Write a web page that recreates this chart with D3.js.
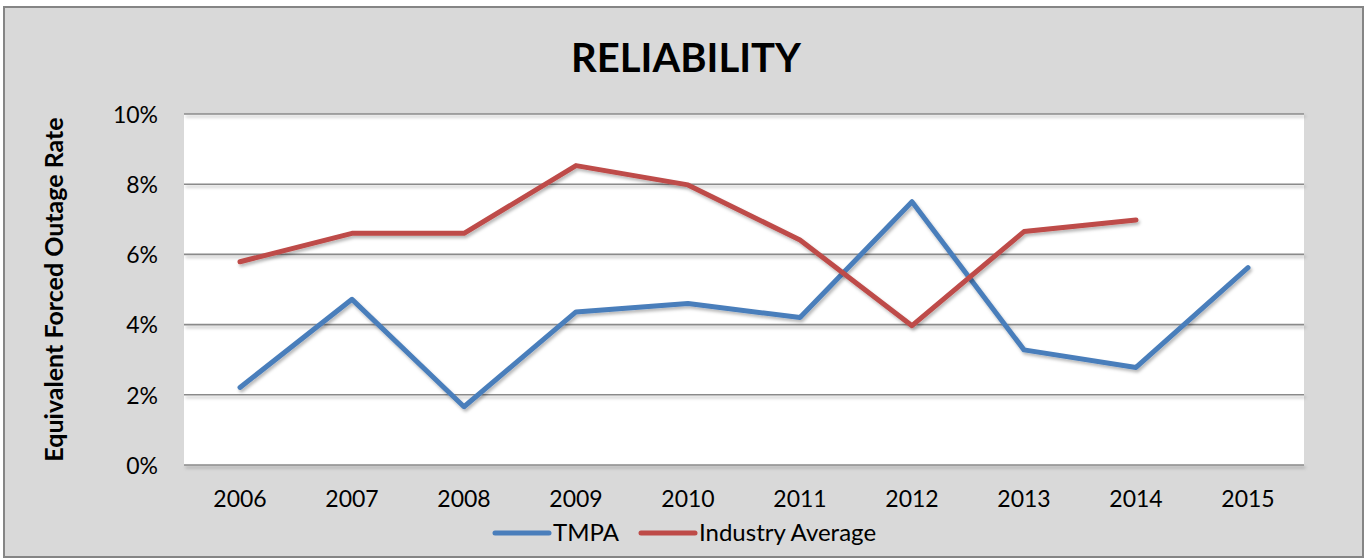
<!DOCTYPE html>
<html>
<head>
<meta charset="utf-8">
<script src="https://cdn.jsdelivr.net/npm/d3@7"></script>
<style>
  html, body { margin: 0; padding: 0; background: #fff; }
  svg { display: block; }
  text { font-family: Lato, "Open Sans", sans-serif; fill: #000; }
</style>
</head>
<body>
<svg id="chart" width="1367" height="560"></svg>
<script>
// Data
const years = ["2006", "2007", "2008", "2009", "2010", "2011", "2012", "2013", "2014", "2015"];
const tmpa = [0.0221, 0.0472, 0.0166, 0.0436, 0.0460, 0.0420, 0.0750, 0.0328, 0.0278, 0.0562];
const industryAvg = [0.0579, 0.0660, 0.0660, 0.0853, 0.0798, 0.0641, 0.0397, 0.0665, 0.0698, null];
const yTicks = [0, 0.02, 0.04, 0.06, 0.08, 0.10];
const seriesNames = ["TMPA", "Industry Average"];
const seriesColors = ["#4a7ebb", "#be4b48"];

const svg = d3.select("#chart");
const W = 1367, H = 560;

// Frame
svg.append("rect").attr("x", 0).attr("y", 0).attr("width", W).attr("height", H).attr("fill", "#ffffff");
svg.append("rect")
  .attr("x", 4).attr("y", 7).attr("width", 1359).attr("height", 550)
  .attr("fill", "#d9d9d9").attr("stroke", "#858585").attr("stroke-width", 2);

const defs = svg.append("defs");
const f = defs.append("filter").attr("id", "shadow")
  .attr("filterUnits", "userSpaceOnUse")
  .attr("x", 0).attr("y", 0).attr("width", W).attr("height", H);
f.append("feDropShadow").attr("dx", 1.5).attr("dy", 2.5).attr("stdDeviation", 1.6)
  .attr("flood-color", "#000").attr("flood-opacity", 0.28);

const plot = { left: 184, top: 114, right: 1304, bottom: 465 };

const x = d3.scaleBand().domain(years).range([plot.left, plot.right]).padding(0);
const y = d3.scaleLinear().domain([0, 0.10]).range([plot.bottom, plot.top]);

// Plot background
svg.append("rect")
  .attr("x", plot.left).attr("y", plot.top)
  .attr("width", plot.right - plot.left).attr("height", plot.bottom - plot.top)
  .attr("fill", "#ffffff");

// Gridlines
svg.append("g").selectAll("line").data(yTicks).join("line")
  .attr("x1", plot.left).attr("x2", plot.right)
  .attr("y1", d => y(d)).attr("y2", d => y(d))
  .attr("stroke", "#8a8a8a").attr("stroke-width", 1.6)
  .attr("filter", "url(#shadow)");

// Y axis
const yAxis = svg.append("g")
  .attr("transform", `translate(${plot.left},0)`)
  .call(d3.axisLeft(y).tickValues(yTicks).tickFormat(d3.format(".0%")).tickSize(0).tickPadding(26));
yAxis.select(".domain").remove();
yAxis.selectAll("text").attr("font-size", 23).attr("font-family", "Lato, sans-serif").attr("fill", "#000").attr("dy", "0.36em");

// X axis
const xAxis = svg.append("g")
  .attr("transform", `translate(0,${plot.bottom})`)
  .call(d3.axisBottom(x).tickSize(0));
xAxis.select(".domain").remove();
xAxis.selectAll("text").attr("font-size", 23).attr("font-family", "Lato, sans-serif").attr("fill", "#000")
  .attr("y", 42).attr("dy", 0);

// Lines
const line = d3.line()
  .defined(d => d.v != null)
  .x(d => x(d.year) + x.bandwidth() / 2)
  .y(d => y(d.v));

[tmpa, industryAvg].forEach((vals, i) => {
  const pts = years.map((yr, j) => ({ year: yr, v: vals[j] }));
  svg.append("path")
    .datum(pts)
    .attr("d", line)
    .attr("fill", "none")
    .attr("stroke", seriesColors[i])
    .attr("stroke-width", 5)
    .attr("stroke-linejoin", "round")
    .attr("stroke-linecap", "round")
    .attr("filter", "url(#shadow)");
});

// Title
svg.append("text")
  .attr("x", 686).attr("y", 72)
  .attr("text-anchor", "middle")
  .attr("font-size", 40).attr("font-weight", "bold")
  .text("RELIABILITY");

// Y axis title
svg.append("text")
  .attr("transform", `translate(63,${(plot.top + plot.bottom) / 2}) rotate(-90)`)
  .attr("text-anchor", "middle")
  .attr("font-size", 25).attr("font-weight", "bold")
  .text("Equivalent Forced Outage Rate");

// Legend
const legend = svg.append("g");
const legendItems = [
  { name: seriesNames[0], color: seriesColors[0], x: 495 },
  { name: seriesNames[1], color: seriesColors[1], x: 641 }
];
legendItems.forEach(it => {
  legend.append("line")
    .attr("x1", it.x).attr("x2", it.x + 54)
    .attr("y1", 533).attr("y2", 533)
    .attr("stroke", it.color).attr("stroke-width", 5).attr("stroke-linecap", "round");
  legend.append("text")
    .attr("x", it.x + 58).attr("y", 541)
    .attr("font-size", 24)
    .text(it.name);
});
</script>
</body>
</html>
